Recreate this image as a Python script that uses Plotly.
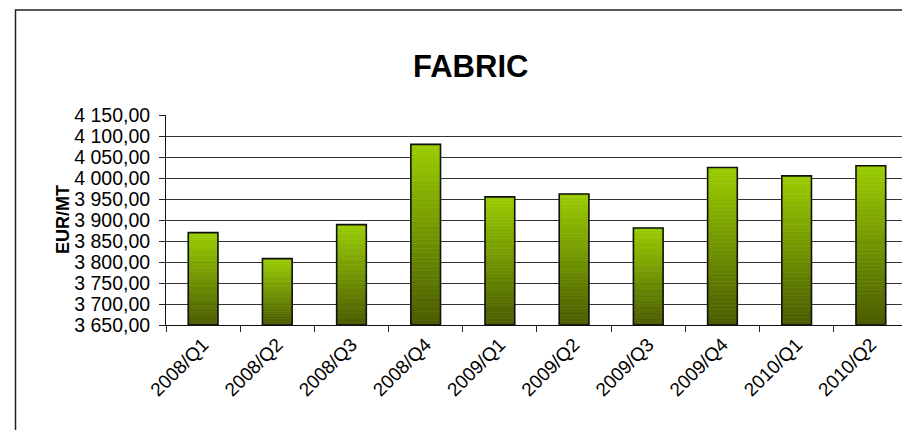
import plotly.graph_objects as go

CATEGORIES = ["2008/Q1", "2008/Q2", "2008/Q3", "2008/Q4", "2009/Q1",
              "2009/Q2", "2009/Q3", "2009/Q4", "2010/Q1", "2010/Q2"]
PRICES = [3870, 3808, 3889, 4080, 3955, 3962, 3881, 4025, 4005, 4029]
Y_TICKS = [3650, 3700, 3750, 3800, 3850, 3900, 3950, 4000, 4050, 4100, 4150]

Y_MIN, Y_MAX = 3650, 4150
FONT = "Liberation Sans, Arial, sans-serif"
TOP_GREEN = (153, 204, 0)
BOTTOM_GREEN = (74, 92, 0)
N_STEPS = 40

W, H = 902, 430
L, R, T, B = 166, 0, 115, 105
PW, PH = W - L - R, H - T - B


def px_x(px):
    return (px - L) / PW


def px_y(py):
    return (H - B - py) / PH


def shade(t):
    c = [int(round(b + (a - b) * t)) for a, b in zip(TOP_GREEN, BOTTOM_GREEN)]
    return "rgb({},{},{})".format(*c)


fig = go.Figure()

# vertical gradient: each bar is built from stacked slices of its own height
heights = [p - Y_MIN for p in PRICES]
for k in range(N_STEPS):
    col = shade(k / (N_STEPS - 1))
    fig.add_trace(go.Bar(
        x=CATEGORIES,
        y=[h / N_STEPS for h in heights],
        base=[Y_MIN + h * k / N_STEPS for h in heights],
        width=0.4,
        marker=dict(color=col, line=dict(color=col, width=0.6)),
        hoverinfo="skip",
        showlegend=False,
    ))

# outline
fig.add_trace(go.Bar(
    x=CATEGORIES,
    y=heights,
    base=[Y_MIN] * len(PRICES),
    width=0.4,
    marker=dict(color="rgba(0,0,0,0)", line=dict(color="#111111", width=1.6)),
    hovertemplate="%{x}: %{customdata:,.2f}<extra></extra>",
    customdata=PRICES,
    showlegend=False,
))

fig.update_xaxes(
    type="category",
    range=[-0.5, 9.42],
    automargin=False,
    tickson="boundaries",
    ticks="outside",
    ticklen=6,
    tickcolor="#222222",
    tickangle=-45,
    showline=True,
    linecolor="#111111",
    linewidth=1,
    showgrid=False,
    tickfont=dict(family=FONT, size=19, color="black"),
)
fig.update_yaxes(
    range=[Y_MIN, Y_MAX],
    automargin=False,
    tickvals=Y_TICKS,
    tickformat=",.2f",
    ticks="outside",
    ticklen=6,
    tickcolor="#222222",
    ticklabelstandoff=5,
    showline=True,
    linecolor="#111111",
    linewidth=1,
    showgrid=True,
    gridcolor="#333333",
    gridwidth=1,
    zeroline=False,
    tickfont=dict(family=FONT, size=19.5, color="black"),
)

fig.add_annotation(
    text="<b>FABRIC</b>", xref="paper", yref="paper",
    x=px_x(470), y=px_y(47), showarrow=False,
    font=dict(family=FONT, size=31, color="black"),
)
fig.add_annotation(
    text="<b>EUR/MT</b>", xref="paper", yref="paper",
    x=px_x(51), y=0.5, textangle=-90, showarrow=False,
    font=dict(family=FONT, size=18, color="black"),
)

# chart frame (right and bottom edges fall outside the picture)
fig.add_shape(
    type="rect", xref="paper", yref="paper",
    x0=px_x(15.5), x1=px_x(960), y0=px_y(480), y1=px_y(10),
    line=dict(color="#222222", width=1.5), fillcolor="rgba(0,0,0,0)",
    layer="above",
)

fig.update_layout(
    width=W, height=H,
    margin=dict(l=L, r=R, t=T, b=B, autoexpand=False),
    barmode="overlay",
    bargap=0.6,
    separators=", ",
    paper_bgcolor="white",
    plot_bgcolor="white",
    font=dict(family=FONT, color="black"),
)

fig.write_html(
    "out.html",
    config={"displayModeBar": False},
    post_script="document.body.style.margin='0';document.body.style.overflow='hidden';",
)
